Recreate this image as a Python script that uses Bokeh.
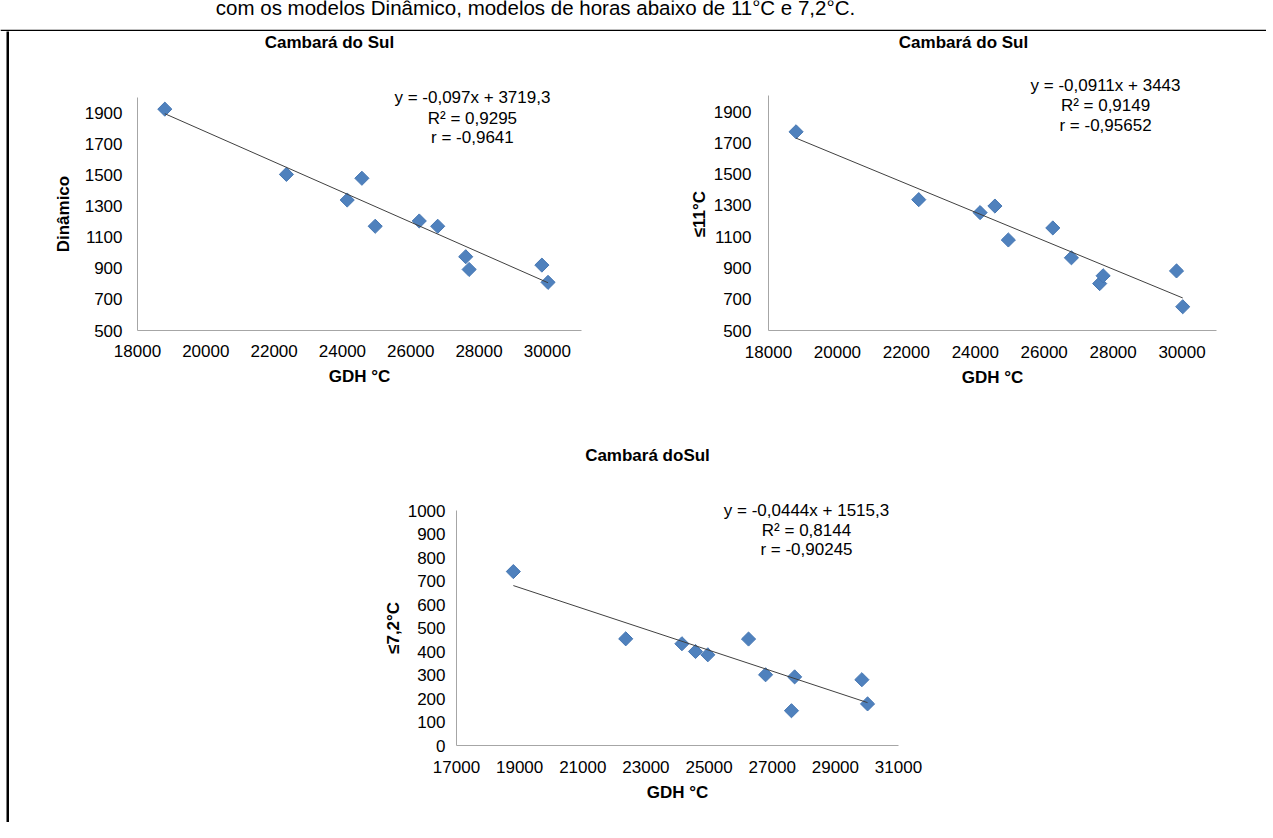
import numpy as np
from bokeh.plotting import figure
from bokeh.models import Range1d, FixedTicker, NumeralTickFormatter, Label, Spacer
from bokeh.layouts import column, row
from bokeh.embed import file_html
from bokeh.resources import INLINE

# ---------------- data ----------------
gdh = [18800, 22360, 24140, 24570, 24960, 26250, 26790, 27610, 27710, 29840, 30020]
dinamico = [1925, 1505, 1340, 1480, 1171, 1205, 1171, 975, 893, 921, 810]
horas11 = [1771, 1337, 1254, 1296, 1079, 1156, 965, 800, 850, 881, 652]
horas72 = [740, 454, 433, 400, 386, 453, 301, 148, 292, 280, 177]

trend_dinamico = (-0.097, 3719.3)
trend_11 = (-0.0911, 3443)
trend_72 = (-0.0444, 1515.3)

eq_dinamico = ["y = -0,097x + 3719,3", "R² = 0,9295", "r = -0,9641"]
eq_11 = ["y = -0,0911x + 3443", "R² = 0,9149", "r = -0,95652"]
eq_72 = ["y = -0,0444x + 1515,3", "R² = 0,8144", "r = -0,90245"]

xticks_top = [18000, 20000, 22000, 24000, 26000, 28000, 30000]
yticks_top = [500, 700, 900, 1100, 1300, 1500, 1700, 1900]
xticks_bottom = [17000, 19000, 21000, 23000, 25000, 27000, 29000, 31000]
yticks_bottom = [0, 100, 200, 300, 400, 500, 600, 700, 800, 900, 1000]

caption = "com os modelos Dinâmico, modelos de horas abaixo de 11°C e 7,2°C."

FONT = "Liberation Sans"
FS = 17
AXIS_COLOR = "#a6a6a6"
MARK_COLOR = "#4f81bd"
NBSP_W = 0.278 * FS  # width of a bold no-break space


def strip(w, h):
    s = figure(width=w, height=h, toolbar_location=None, output_backend="svg",
               x_axis_location=None, y_axis_location=None, min_border=0,
               background_fill_color="black", border_fill_color="black",
               outline_line_color=None)
    s.grid.visible = False
    return s


def chart(fig_box, axis_box, xr, yr, xt, yt, ylabel, ys, trend, eq, eqpos,
          title, titlepos, stand):
    fx, fy, fw, fh = fig_box            # page position of the figure
    al, ar, at, ab = axis_box           # page position of the axes
    ystand, ylstand, xstand, xlstand = stand
    # frame runs from the figure top down to the x axis, the y axis is bounded
    ytop = yr[0] + (yr[1] - yr[0]) * (ab - fy) / (ab - at)
    p = figure(width=fw, height=fh, toolbar_location=None, output_backend="svg",
               x_range=Range1d(*xr), y_range=Range1d(yr[0], ytop),
               min_border_left=al - fx, min_border_right=fx + fw - ar,
               min_border_top=0, min_border_bottom=fy + fh - ab,
               outline_line_color=None, background_fill_color="white",
               border_fill_color="white")
    p.grid.visible = False
    for ax, ticks in ((p.xaxis[0], xt), (p.yaxis[0], yt)):
        ax.ticker = FixedTicker(ticks=ticks)
        ax.formatter = NumeralTickFormatter(format="0")
        ax.axis_line_color = AXIS_COLOR
        ax.axis_line_width = 1
        ax.major_tick_line_color = None
        ax.minor_tick_line_color = None
        ax.major_tick_out = 0
        ax.major_tick_in = 0
        ax.major_label_text_font = FONT
        ax.major_label_text_font_size = f"{FS}px"
        ax.major_label_text_color = "black"
        ax.axis_label_text_font = FONT
        ax.axis_label_text_font_size = f"{FS}px"
        ax.axis_label_text_font_style = "bold"
        ax.axis_label_text_color = "black"
    p.yaxis[0].bounds = yr
    # the axis label is centred on the frame: pad it so it centres on the y axis
    shift = (at + ab) / 2 - (fy + ab) / 2
    pad = "\u00a0" * int(round(2 * shift / NBSP_W))
    p.xaxis[0].axis_label = "GDH °C"
    p.yaxis[0].axis_label = ylabel + pad
    p.yaxis[0].major_label_standoff = ystand
    p.yaxis[0].axis_label_standoff = ylstand
    p.xaxis[0].major_label_standoff = xstand
    p.xaxis[0].axis_label_standoff = xlstand

    p.scatter(gdh, ys, marker="square", angle=np.pi / 4, size=10,
              fill_color=MARK_COLOR, line_color="#4677b3", line_width=1)
    tx = np.array([min(gdh), max(gdh)], dtype=float)
    ty = trend[0] * tx + trend[1]
    p.line(tx, ty, line_color="#404040", line_width=1)

    ex, eys = eqpos
    for txt, yy in zip(eq, eys):
        p.add_layout(Label(x=ex, y=yy, text=txt, text_align="center", text_baseline="middle",
                           text_font=FONT, text_font_size=f"{FS}px", text_color="black"))
    p.add_layout(Label(x=titlepos[0], y=titlepos[1], text=title, text_align="center",
                       text_baseline="middle", text_font=FONT, text_font_size=f"{FS}px",
                       text_font_style="bold", text_color="black"))
    return p


# header with the (cut) caption and the top border of the box
header = figure(width=1266, height=31, toolbar_location=None, output_backend="svg",
                x_range=Range1d(0, 1266), y_range=Range1d(0, 29),
                x_axis_location=None, y_axis_location=None,
                min_border_left=0, min_border_right=0, min_border_top=0, min_border_bottom=2,
                outline_line_color=None, background_fill_color="white",
                border_fill_color="black")
header.grid.visible = False
header.add_layout(Label(x=535, y=22, text=caption, text_align="center",
                        text_baseline="alphabetic", text_font=FONT,
                        text_font_size="20.5px", text_color="black"))

fig1 = chart((9, 31, 641, 389), (137, 581, 97, 330), (18000, 31000), (500, 2000),
             xticks_top, yticks_top, "Dinâmico", dinamico, trend_dinamico, eq_dinamico,
             (27806, [1998, 1867, 1741]), "Cambará do Sul", (23620, 2354),
             (15, 9, 14, 7))
fig2 = chart((650, 31, 607, 389), (768, 1216, 97, 337), (18000, 31000), (500, 2000),
             xticks_top, yticks_top, "≤11°C", horas11, trend_11, eq_11,
             (27780, [2064, 1937, 1814]), "Cambará do Sul", (23659, 2344),
             (17, 2, 15, 7))
fig3 = chart((9, 420, 1248, 402), (456, 898, 510, 745), (17000, 31000), (0, 1000),
             xticks_bottom, yticks_bottom, "≤7,2°C", horas72, trend_72, eq_72,
             (28085, [1000, 915, 834]), "Cambará doSul", (23049, 1234),
             (11, 2, 15, 7))

layout = column(
    header,
    row(Spacer(width=6, height=791), strip(3, 791), column(row(fig1, fig2), fig3)),
)

open("out.html", "w").write(file_html(layout, INLINE))
